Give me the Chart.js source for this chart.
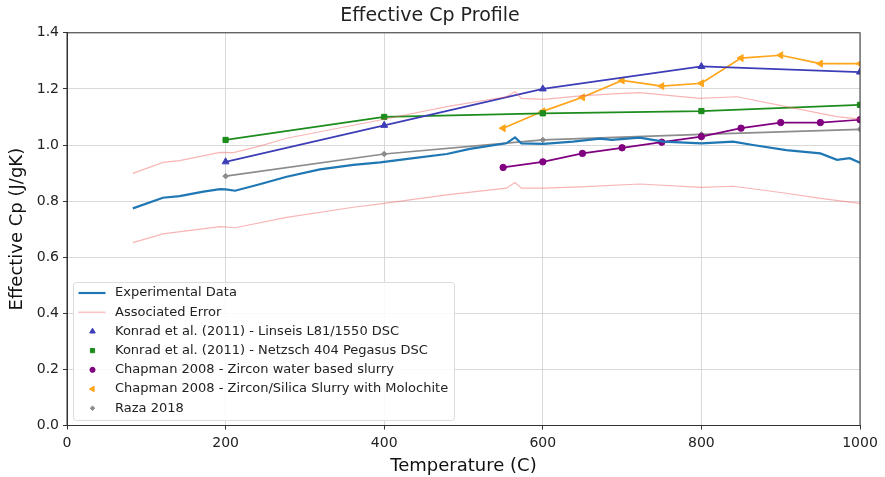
<!DOCTYPE html>
<html>
<head>
<meta charset="utf-8">
<title>Effective Cp Profile</title>
<script src="https://cdn.jsdelivr.net/npm/chart.js@4.4.1/dist/chart.umd.min.js"></script>
<style>
  body { margin: 0; background: #fff; }
  #wrap { width: 885px; height: 477px; }
</style>
</head>
<body>
<div id="wrap"><canvas id="chart" width="885" height="477"></canvas></div>
<script>
// experimental curve
const expTemps = [83, 121, 142, 172, 193, 200, 212, 243, 277, 319, 361, 395, 437, 479, 508, 554, 565, 573, 601, 638, 672, 687, 722, 752, 800, 840, 865, 907, 950, 971, 987, 1000];
const expCp = [0.774, 0.812, 0.818, 0.834, 0.843, 0.842, 0.837, 0.860, 0.887, 0.913, 0.929, 0.938, 0.953, 0.968, 0.986, 1.006, 1.027, 1.006, 1.004, 1.012, 1.023, 1.018, 1.026, 1.012, 1.006, 1.012, 1.000, 0.982, 0.970, 0.947, 0.953, 0.937];

// error band, upper and lower
const upTemps = [83, 121, 142, 193, 210, 243, 277, 395, 479, 554, 565, 573, 601, 647, 689, 722, 798, 845, 907, 950, 971, 1000];
const upCp = [0.899, 0.938, 0.944, 0.974, 0.973, 0.996, 1.024, 1.089, 1.137, 1.172, 1.190, 1.166, 1.163, 1.175, 1.182, 1.187, 1.166, 1.172, 1.137, 1.113, 1.101, 1.092];
const lowTemps = [83, 121, 193, 212, 277, 361, 395, 479, 554, 565, 573, 601, 647, 722, 800, 840, 907, 950, 1000];
const lowCp = [0.652, 0.683, 0.709, 0.705, 0.742, 0.778, 0.790, 0.822, 0.846, 0.866, 0.846, 0.846, 0.851, 0.861, 0.849, 0.853, 0.828, 0.810, 0.792];

// literature values
const konradTemps = [200, 400, 600, 800, 1000];
const linseisCp = [0.940, 1.070, 1.200, 1.280, 1.260];
const netzschCp = [1.018, 1.100, 1.113, 1.121, 1.143];
const razaCp = [0.889, 0.968, 1.018, 1.038, 1.056];
const chapmanTemps = [550, 600, 650, 700, 750, 800, 850, 900, 950, 1000];
const waterCp = [0.920, 0.940, 0.970, 0.990, 1.010, 1.030, 1.060, 1.080, 1.080, 1.090];
const molochiteCp = [1.060, 1.120, 1.170, 1.230, 1.210, 1.220, 1.310, 1.320, 1.290, 1.290];

const xTicks = [0, 200, 400, 600, 800, 1000];
const yTicks = [0.0, 0.2, 0.4, 0.6, 0.8, 1.0, 1.2, 1.4];

const FONT = "'DejaVu Sans', sans-serif";

function pts(xs, ys) {
  return xs.map((x, i) => ({ x: x, y: ys[i] }));
}

function series(label, xs, ys, color, style, extra) {
  return Object.assign({
    label: label,
    data: pts(xs, ys),
    borderColor: color,
    backgroundColor: color,
    borderWidth: 1.7,
    pointStyle: style,
    pointRadius: 3.5,
    pointHoverRadius: 3.5,
    pointBorderWidth: 1,
    tension: 0
  }, extra || {});
}

const errColor = "rgba(240, 90, 90, 0.45)";

const datasets = [
  series("Experimental Data", expTemps, expCp, "#1f77b4", false, { borderWidth: 2.2, pointRadius: 0 }),
  series("Associated Error", upTemps, upCp, errColor, false, { borderWidth: 1.2, pointRadius: 0 }),
  series("Associated Error", lowTemps, lowCp, errColor, false, { borderWidth: 1.2, pointRadius: 0 }),
  series("Konrad et al. (2011) - Linseis L81/1550 DSC", konradTemps, linseisCp, "#3d3db8", "triangle", { pointRadius: 4 }),
  series("Konrad et al. (2011) - Netzsch 404 Pegasus DSC", konradTemps, netzschCp, "#1c8c1c", "rect", { pointRadius: 3.7 }),
  series("Chapman 2008 - Zircon water based slurry", chapmanTemps, waterCp, "#800080", "circle", { pointRadius: 3.2 }),
  series("Chapman 2008 - Zircon/Silica Slurry with Molochite", chapmanTemps, molochiteCp, "#ffa51a", "triangle", { pointRadius: 4, pointRotation: -90 }),
  series("Raza 2018", konradTemps, razaCp, "#8c8c8c", "rectRot", { pointRadius: 2.8 })
];

// frame + legend box drawn inside the plot, like matplotlib
const boxLegend = {
  id: "boxLegend",
  afterDraw(chart) {
    const ctx = chart.ctx;
    const a = chart.chartArea;
    ctx.save();
    ctx.strokeStyle = "#333";
    ctx.lineWidth = 1;
    ctx.strokeRect(a.left, a.top, a.right - a.left, a.bottom - a.top);

    const x0 = 73.5, y0 = 282.5, w = 381, h = 138;
    ctx.beginPath();
    ctx.roundRect(x0, y0, w, h, 3);
    ctx.fillStyle = "rgba(255,255,255,0.85)";
    ctx.fill();
    ctx.strokeStyle = "#dcdcdc";
    ctx.stroke();

    const seen = [];
    let row = 0;
    chart.data.datasets.forEach(ds => {
      if (seen.includes(ds.label)) return;
      seen.push(ds.label);
      const y = 293 + row * 19.2;
      if (!ds.pointStyle) {
        ctx.strokeStyle = ds.borderColor;
        ctx.lineWidth = ds.borderWidth;
        ctx.beginPath();
        ctx.moveTo(78.5, y);
        ctx.lineTo(105.5, y);
        ctx.stroke();
      } else {
        ctx.fillStyle = ds.backgroundColor;
        ctx.strokeStyle = ds.borderColor;
        ctx.lineWidth = 1;
        Chart.helpers.drawPoint(ctx, {
          pointStyle: ds.pointStyle,
          radius: ds.pointRadius * 0.8,
          rotation: ds.pointRotation || 0,
          borderWidth: 1
        }, 92.5, y);
      }
      ctx.fillStyle = "#222";
      ctx.font = "13px " + FONT;
      ctx.textBaseline = "middle";
      ctx.textAlign = "left";
      ctx.fillText(ds.label, 115, y);
      row++;
    });
    ctx.restore();
  }
};

new Chart(document.getElementById("chart"), {
  type: "line",
  data: { datasets: datasets },
  plugins: [boxLegend],
  options: {
    responsive: false,
    animation: false,
    events: [],
    layout: { padding: { left: 0, right: 25, top: 0, bottom: 0 } },
    plugins: {
      legend: { display: false },
      tooltip: { enabled: false },
      title: {
        display: true,
        text: "Effective Cp Profile",
        color: "#222",
        font: { family: FONT, size: 19, weight: "normal" },
        padding: { top: 5, bottom: 5 }
      }
    },
    scales: {
      x: {
        type: "linear",
        min: 0,
        max: 1000,
        afterBuildTicks: s => { s.ticks = xTicks.map(v => ({ value: v })); },
        afterFit: s => { s.height = 51.5; },
        ticks: { color: "#222", font: { family: FONT, size: 14 }, padding: 5, maxRotation: 0, callback: v => String(v) },
        grid: { color: "#d9d9d9", tickColor: "#333", tickLength: 4 },
        border: { color: "#333" },
        title: {
          display: true,
          text: "Temperature (C)",
          color: "#111",
          font: { family: FONT, size: 18 },
          padding: { top: 0, bottom: 0 }
        }
      },
      y: {
        type: "linear",
        min: 0,
        max: 1.4,
        afterBuildTicks: s => { s.ticks = yTicks.map(v => ({ value: v })); },
        afterFit: s => { s.width = 67; },
        ticks: {
          color: "#222",
          font: { family: FONT, size: 14 },
          padding: 4,
          callback: v => v.toFixed(1)
        },
        grid: { color: "#d9d9d9", tickColor: "#333", tickLength: 4 },
        border: { color: "#333" },
        title: {
          display: true,
          text: "Effective Cp (J/gK)",
          color: "#111",
          font: { family: FONT, size: 18 },
          padding: { top: 7, bottom: 0 }
        }
      }
    }
  }
});
</script>
</body>
</html>
